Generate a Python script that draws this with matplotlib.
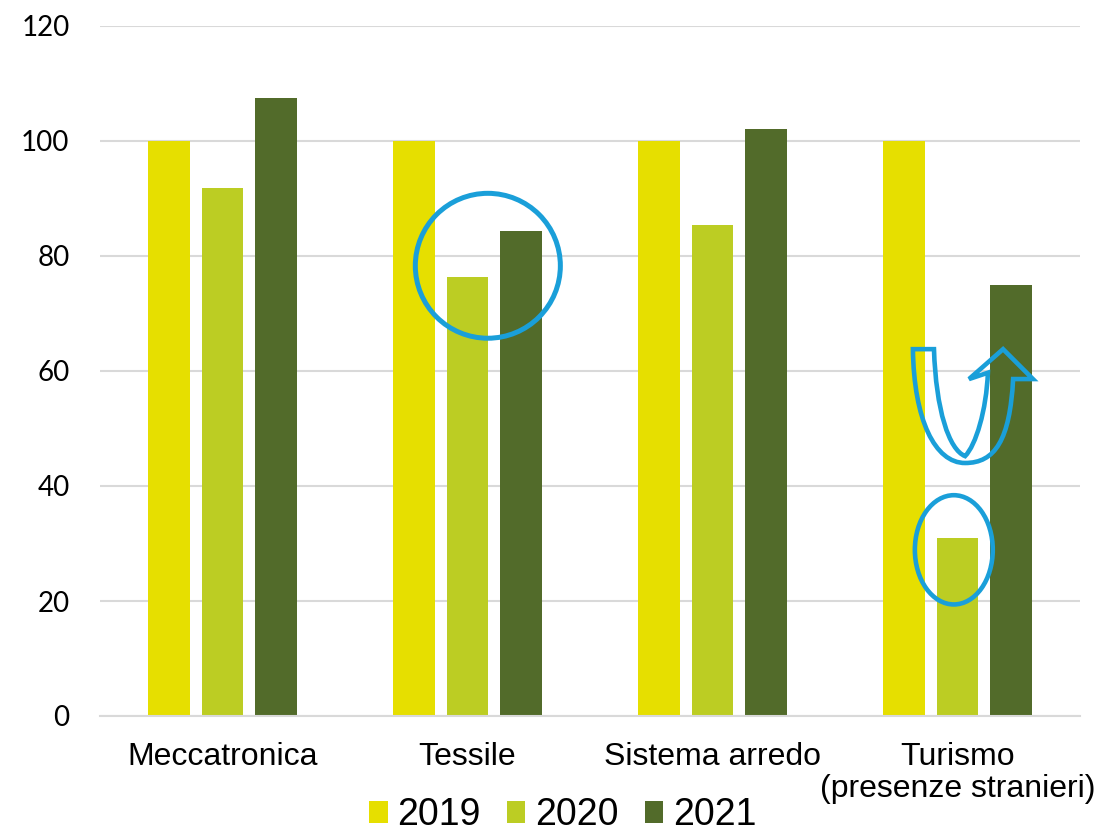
#!/usr/bin/env python3
"""Indice 2019=100 per settore: Meccatronica, Tessile, Sistema arredo, Turismo."""

import numpy as np
import matplotlib
matplotlib.use('Agg')
import matplotlib.pyplot as plt
from matplotlib.patches import Ellipse, PathPatch
from matplotlib.path import Path

categories = ['Meccatronica', 'Tessile', 'Sistema arredo',
              'Turismo\n(presenze stranieri)']
years = ['2019', '2020', '2021']
values_2019 = [100, 100, 100, 100]
values_2020 = [91.8, 76.3, 85.4, 31.0]
values_2021 = [107.5, 84.4, 102.1, 75.0]
y_ticks = [0, 20, 40, 60, 80, 100, 120]

colors = ['#e6df00', '#bccd23', '#526b2a']
blue = '#1a9fd9'

fig = plt.figure(figsize=(11.01, 8.31), dpi=100)
ax = fig.add_axes([100 / 1101, 1 - 716 / 831, 980 / 1101, 690 / 831])

x = np.arange(len(categories))
width = 0.171
step = 0.22
for i, (vals, col, lab) in enumerate(zip([values_2019, values_2020, values_2021],
                                         colors, years)):
    ax.bar(x + (i - 1) * step, vals, width, color=col, label=lab, zorder=3)

ax.set_xlim(-0.5, len(categories) - 0.5)
ax.set_ylim(0, 120)
ax.set_yticks(y_ticks)
ax.set_xticks(x)
ax.set_xticklabels(categories, fontsize=23, family='Liberation Sans',
                   linespacing=1.12)
for lbl in ax.get_yticklabels():
    lbl.set_family('Lato')
    lbl.set_fontsize(20)
ax.tick_params(axis='x', length=0, pad=18.5)
ax.tick_params(axis='y', length=0, pad=22)

ax.grid(axis='y', color='#d9d9d9', linewidth=1.5, zorder=0)
for side in ['top', 'right', 'left']:
    ax.spines[side].set_visible(False)
ax.spines['bottom'].set_color('#d9d9d9')
ax.spines['bottom'].set_linewidth(1.5)
ax.spines['bottom'].set_zorder(4)

# highlight annotations
ax.add_patch(Ellipse((1.083, 78.3), 0.592, 25.2, fill=False,
                     edgecolor=blue, linewidth=3.6, zorder=5))
ax.add_patch(Ellipse((2.985, 28.9), 0.318, 19.0, fill=False,
                     edgecolor=blue, linewidth=3.3, zorder=5))

# U-turn arrow over the Turismo group
verts = [
    (2.818, 63.8),                                   # top-left outer
    (2.904, 63.8),                                   # top-left inner
    (2.912, 53.2), (2.965, 46.3), (3.031, 45.2),     # inner left curve
    (3.075, 47.1), (3.118, 53.2), (3.124, 59.7),     # inner right curve
    (3.047, 58.6),                                   # left barb
    (3.186, 63.8),                                   # tip
    (3.308, 58.6),                                   # right barb
    (3.227, 58.6),                                   # outer shaft top
    (3.214, 48.0), (3.153, 44.0), (3.031, 44.0),     # outer right curve
    (2.908, 44.0), (2.822, 51.5), (2.818, 63.8),     # outer left curve
    (2.818, 63.8),
]
codes = [Path.MOVETO, Path.LINETO,
         Path.CURVE4, Path.CURVE4, Path.CURVE4,
         Path.CURVE4, Path.CURVE4, Path.CURVE4,
         Path.LINETO, Path.LINETO, Path.LINETO, Path.LINETO,
         Path.CURVE4, Path.CURVE4, Path.CURVE4,
         Path.CURVE4, Path.CURVE4, Path.CURVE4,
         Path.CLOSEPOLY]
ax.add_patch(PathPatch(Path(verts, codes), facecolor='none', edgecolor=blue,
                       linewidth=3.3, joinstyle='miter', zorder=5))

fig.legend(loc='center', bbox_to_anchor=(0.511, 0.019), ncol=3, frameon=False,
           prop={'family': 'Liberation Sans', 'size': 27},
           handlelength=0.5, handleheight=0.5, handletextpad=0.25,
           columnspacing=0.7, borderpad=0)

fig.savefig('out.png', dpi=100)
